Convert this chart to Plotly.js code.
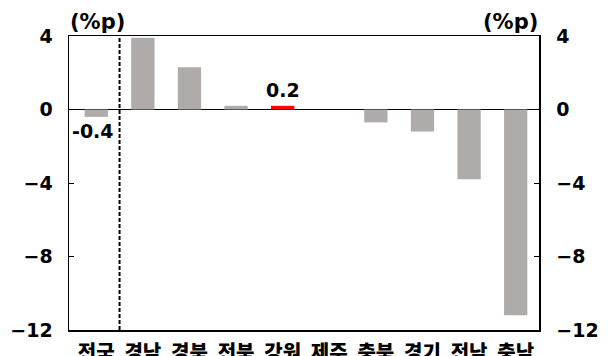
<!DOCTYPE html>
<html><head><meta charset="utf-8">
<script src="https://cdn.plot.ly/plotly-3.0.1.min.js"></script>
<style>html,body{margin:0;padding:0;background:#fff;}</style>
</head><body>
<div id="chart" style="width:609px;height:356px;"></div>
<script>
const categories = ['전국','경남','경북','전북','강원','제주','충북','경기','전남','충남'];
const values = [-0.4, 3.9, 2.3, 0.2, 0.2, 0, -0.7, -1.2, -3.8, -11.2];
const highlight = '강원';
const yTicks = [4, 0, -4, -8, -12];
const labelled = {'전국': '-0.4', '강원': '0.2'};
const unitLabel = '(%p)';

const grey = '#afabaa', red = '#ff0000';
const colors = categories.map(c => c === highlight ? red : grey);
const numFont = {family: 'DejaVu Sans, sans-serif', size: 19, color: '#000', weight: 700};
const tickText = yTicks.map(v => String(v).replace('-', '\u2212'));

const trace = {
  type: 'bar', x: categories, y: values, width: 0.5,
  marker: {color: colors, line: {width: 0}},
  hoverinfo: 'skip'
};
const trace2 = {type: 'scatter', x: [categories[0]], y: [0], yaxis: 'y2', mode: 'markers', marker: {opacity: 0}, showlegend: false, hoverinfo: 'skip'};

const annotations = [
  {text: unitLabel, xref: 'paper', yref: 'paper', x: -0.002, y: 1.048, xanchor: 'left', yanchor: 'middle', showarrow: false, font: Object.assign({}, numFont, {size: 21})},
  {text: unitLabel, xref: 'paper', yref: 'paper', x: 1.002, y: 1.048, xanchor: 'right', yanchor: 'middle', showarrow: false, font: Object.assign({}, numFont, {size: 21})}
];
categories.forEach((c, i) => {
  if (labelled[c] !== undefined) {
    const v = values[i];
    annotations.push({text: labelled[c], x: c, y: v, xref: 'x', yref: 'y', showarrow: false,
      yanchor: v >= 0 ? 'bottom' : 'top', yshift: v >= 0 ? 3 : -1, xshift: v >= 0 ? 0 : -3,
      font: numFont});
  }
});

const layout = {
  width: 609, height: 356,
  margin: {l: 69, r: 70, t: 36, b: 26},
  paper_bgcolor: '#fff', plot_bgcolor: '#fff',
  showlegend: false, bargap: 0.5,
  font: numFont,
  xaxis: {
    type: 'category', showline: true, mirror: true, linecolor: '#000', linewidth: 1.5,
    ticks: '', showgrid: false, zeroline: false,
    tickfont: {family: 'Noto Sans CJK KR, sans-serif', size: 20, color: '#000', weight: 900},
    ticklabelstandoff: 4
  },
  yaxis: {
    range: [-12, 4], tickvals: yTicks, ticktext: tickText,
    showline: true, linecolor: '#000', linewidth: 1.5, showgrid: false,
    zeroline: true, zerolinecolor: '#000', zerolinewidth: 1.5,
    ticks: 'inside', ticklen: 5, tickcolor: '#000', tickfont: numFont, ticklabelstandoff: 11
  },
  yaxis2: {
    range: [-12, 4], tickvals: yTicks, ticktext: tickText,
    overlaying: 'y', side: 'right', showline: true, linecolor: '#000', linewidth: 1.5,
    showgrid: false, zeroline: false, ticks: 'inside', ticklen: 5, tickcolor: '#000',
    tickfont: numFont, ticklabelstandoff: 12
  },
  shapes: [{type: 'line', xref: 'x', yref: 'paper', x0: 0.5, x1: 0.5, y0: 0, y1: 1,
    line: {color: '#000', width: 2, dash: '4px,2px'}}],
  annotations: annotations
};
Plotly.newPlot('chart', [trace, trace2], layout, {displayModeBar: false, staticPlot: true});
</script>
</body></html>
